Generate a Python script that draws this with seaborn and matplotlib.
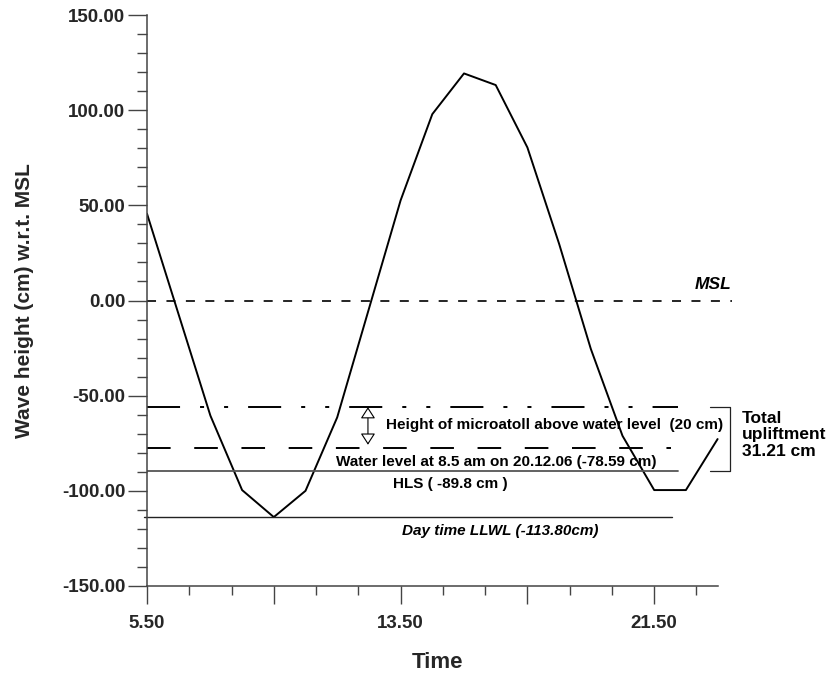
import numpy as np
import matplotlib
matplotlib.use("Agg")
import matplotlib.pyplot as plt
import seaborn as sns

# ---- data ----
time_h = [5.5, 7.5, 8.5, 9.5, 10.5, 11.5, 13.5, 14.5, 15.5, 16.5,
          17.5, 18.5, 19.5, 20.5, 21.5, 22.5, 23.5]
wave_cm = [45.6, -60.5, -99.6, -113.8, -100.0, -61.4, 52.6, 97.9, 119.3, 113.2,
           80.4, 29.8, -25.4, -71.1, -99.6, -99.6, -72.8]

msl_level = 0.0
microatoll_level = -56.0
water_level = -77.5
hls_level = -89.8
llwl_level = -113.8

msl_end = 23.95
level_end = 22.25
water_end = 22.03
llwl_start, llwl_end = 5.41, 22.06

x_major = [5.5, 9.5, 13.5, 17.5, 21.5]
x_major_labels = ["5.50", "", "13.50", "", "21.50"]
y_major = [-150, -100, -50, 0, 50, 100, 150]
y_major_labels = ["-150.00", "-100.00", "-50.00", "0.00", "50.00", "100.00", "150.00"]

sns.set_style("ticks")
plt.rcParams["font.family"] = ["Liberation Sans", "DejaVu Sans"]
plt.rcParams["lines.scale_dashes"] = False

W, H = 832, 675
PXU = 31.7          # pixels per hour
x0, x1 = 5.5, 24.5
axw = (x1 - x0) * PXU
fig = plt.figure(figsize=(W / 100, H / 100), dpi=100)
ax = fig.add_axes([147 / W, 89 / H, axw / W, 571 / H])
ax.set_xlim(x0, x1)
ax.set_ylim(-150, 150)

# curve
sns.lineplot(x=time_h, y=wave_cm, color="black", lw=1.4, ax=ax, sort=False)

# reference levels
ax.plot([x0, msl_end], [msl_level, msl_level], color="black", lw=1.2,
        dashes=[6.5, 7.5])
ax.plot([x0, level_end], [microatoll_level] * 2, color="black", lw=1.4,
        dashes=[23.8, 14.4, 2.9, 14.4, 2.9, 14.4])
ax.plot([x0, water_end], [water_level] * 2, color="black", lw=1.4,
        dashes=[17, 17])
ax.plot([x0, level_end], [hls_level] * 2, color="#555555", lw=1.3)
ax.plot([llwl_start, llwl_end], [llwl_level] * 2, color="#222222", lw=1.0,
        clip_on=False)

# bracket for total upliftment
bx0, bx1 = 23.26, 23.9
ax.plot([bx0, bx1, bx1, bx0], [microatoll_level, microatoll_level, hls_level, hls_level],
        color="#222222", lw=0.9, clip_on=False)

# double arrow
ax.annotate("", xy=(12.47, microatoll_level), xytext=(12.47, -75.8),
            arrowprops=dict(arrowstyle="<|-|>,head_length=0.7,head_width=0.45",
                            fc="white", ec="black", lw=0.8, shrinkA=0, shrinkB=0))

tb = dict(fontweight="bold", color="black")
ax.text(msl_end, 8.4, "MSL", ha="right", va="center", fontsize=12.5,
        fontstyle="italic", **tb)
ax.text(18.37, -65.3, "Height of microatoll above water level  (20 cm)",
        ha="center", va="center", fontsize=11, **tb)
ax.text(16.52, -84.6, "Water level at 8.5 am on 20.12.06 (-78.59 cm)",
        ha="center", va="center", fontsize=11, **tb)
ax.text(13.26, -96.6, "HLS ( -89.8 cm )", ha="left", va="center",
        fontsize=11, **tb)
ax.text(19.73, -121.0, "Day time LLWL (-113.80cm)", ha="right", va="center",
        fontsize=11, fontstyle="italic", **tb)
ax.text(24.27, -70.5, "Total\nupliftment\n31.21 cm", ha="left", va="center",
        fontsize=12.5, linespacing=1.12, clip_on=False, **tb)

# axes styling
for s in ["top", "right"]:
    ax.spines[s].set_visible(False)
for s in ["left", "bottom"]:
    ax.spines[s].set_color("#444444")
    ax.spines[s].set_linewidth(1.1)
ax.spines["bottom"].set_bounds(5.5, 23.5)
ax.spines["left"].set_bounds(-150, 150)

ax.set_xticks(x_major)
ax.set_xticklabels(x_major_labels)
ax.set_xticks([t for t in np.arange(5.5, 23.4, 4 / 3) if min(abs(t - m) for m in x_major) > 1e-6],
              minor=True)
ax.set_yticks(y_major)
ax.set_yticklabels(y_major_labels)
ax.set_yticks([v for v in range(-150, 151, 10) if v % 50 != 0], minor=True)

ax.tick_params(axis="both", which="both", direction="out", width=1.0, color="#444444")
ax.tick_params(axis="x", which="major", length=13, pad=8, labelsize=13.5)
ax.tick_params(axis="x", which="minor", length=6.5)
ax.tick_params(axis="y", which="major", length=14, pad=1.5, labelsize=13.5)
ax.tick_params(axis="y", which="minor", length=7)
for lab in ax.get_xticklabels() + ax.get_yticklabels():
    lab.set_fontweight("bold")

ax.set_xlabel("Time", fontsize=16, fontweight="bold")
ax.set_ylabel("Wave height (cm) w.r.t. MSL", fontsize=15, fontweight="bold")
ax.xaxis.label.set_va("center")
ax.yaxis.label.set_va("center")
ax.xaxis.set_label_coords((437 - 147) / axw, (586 - 663) / 571)
ax.yaxis.set_label_coords((25 - 147) / axw, 0.5)

fig.savefig("out.png", dpi=100)
